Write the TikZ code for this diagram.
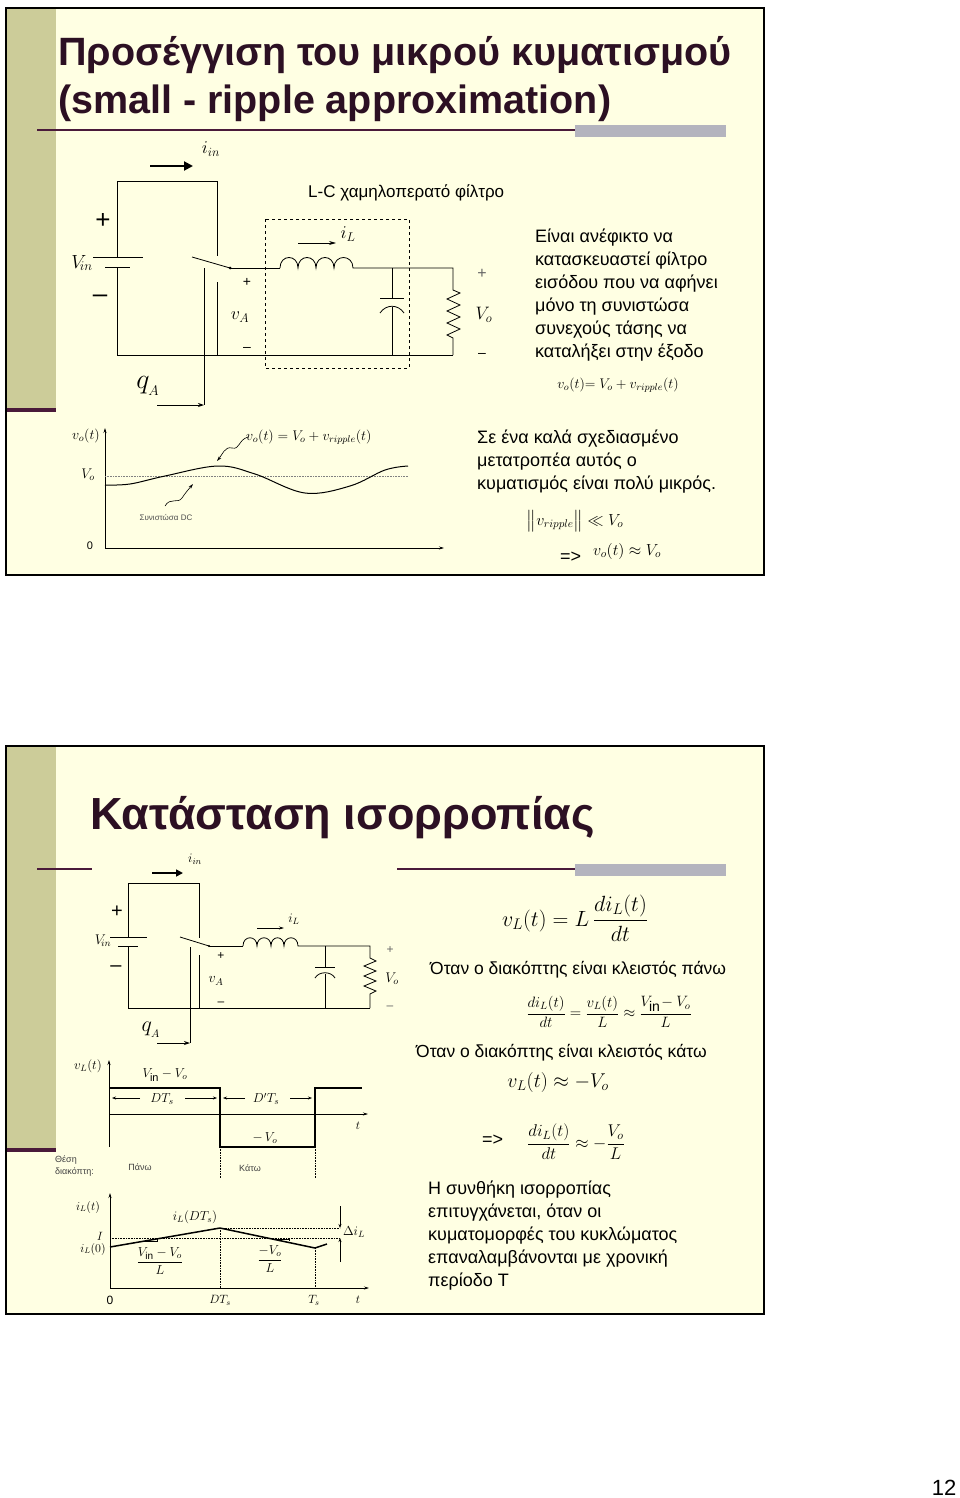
\RequirePackage{fix-cm}
\documentclass[tikz,border=0pt]{standalone}
\usepackage{amsmath}
\usepackage{fontspec}
\setmainfont{Liberation Sans}
\usetikzlibrary{arrows.meta}
\definecolor{slidebg}{HTML}{FFFFE3}
\definecolor{barcol}{HTML}{CCCC99}
\definecolor{darkline}{HTML}{4A1A3A}
\definecolor{graybar}{HTML}{B4B4BE}
\newcommand{\fs}[1]{\fontsize{#1pt}{1.27\dimexpr#1pt\relax}\selectfont}
\begin{document}
\begin{tikzpicture}[x=1pt,y=-1pt,
  wire/.style={line width=0.8pt},
  txt/.style={inner sep=0pt,anchor=west,align=left},
  lbl/.style={inner sep=0pt},
  bodytext/.style={txt,font=\fs{18}},
  arr/.style={-{Stealth[length=6pt,width=4pt]}},
  dotl/.style={densely dotted,line width=0.6pt}]
\useasboundingbox (0,0) rectangle (960,1498);
\fill[white] (0,0) rectangle (960,1498);
%================ SLIDE 1 =================
\fill[slidebg] (6,8) rectangle (764,575);
\fill[barcol] (6,8) rectangle (56,410);
\fill[darkline] (6,408) rectangle (56,412);
\draw[line width=2pt] (6,8) rectangle (764,575);
\node[txt,font=\fs{39.5}\bfseries,text=darkline!60!black] (t1a) at (58,55) {Προσέγγιση του μικρού κυματισμού};
\node[txt,font=\fs{39.5}\bfseries,text=darkline!60!black] (t1b) at (58,103) {(small - ripple approximation)};
\draw[line width=1.2pt,darkline] (37,130) -- (575,130);
\fill[graybar] (575,125) rectangle (726,137);
% circuit 1
\draw[wire] (117,257) -- (117,181) -- (217,181) -- (217,256);
\draw[wire] (117,267) -- (117,355) -- (453,355);
\draw[wire] (217,282) -- (217,355);
\draw[wire] (93,257) -- (143,257);
\draw[wire] (105,267) -- (130,267);
\node[lbl,font=\fs{26}] (p1) at (103,221) {+};
\node[lbl,font=\fs{26}] (m1) at (100,299) {--};
\node[lbl,font=\fs{19}] (vin1) at (82,263) {$V_{\!in}$};
\draw[wire] (192,257) -- (230,268);
\fill (230,268) circle (1.5);
\draw[wire] (230,268) -- (280,268);
\draw[wire] (280,268) .. controls +(0,-14) and +(0,-14) .. ++(18,0)
  .. controls +(0,-14) and +(0,-14) .. ++(18,0)
  .. controls +(0,-14) and +(0,-14) .. ++(18,0)
  .. controls +(0,-14) and +(0,-14) .. ++(19,0) -- (453,268) -- (453,290)
  -- (460,293) -- (447,299) -- (460,305) -- (447,311) -- (460,317) -- (447,323) -- (460,329) -- (447,335) -- (453,338) -- (453,355);
\draw[wire] (392,268) -- (392,298) (380,298) -- (404,298);
\draw[wire] (380,313) .. controls (386,304) and (398,304) .. (404,313);
\draw[wire] (392,307) -- (392,355);
\draw[wire] (204,268) -- (204,405);
\draw[wire,arr] (157,405) -- (204,405);
\node[lbl,font=\fs{28}] (qa1) at (148,386) {$q_{_A}$};
\draw[dashed,line width=0.7pt] (265,219) rectangle (409,368);
\node[lbl,font=\fs{14}] (pa1) at (247,282) {+};
\node[lbl,font=\fs{18}] (va1) at (240,317) {$v_A$};
\node[lbl,font=\fs{14}] (ma1) at (247,349) {--};
\node[lbl,font=\fs{16},text=black!60] (po1) at (482,274) {+};
\node[lbl,font=\fs{18}] (vo1) at (484,315) {$V_o$};
\node[lbl,font=\fs{14}] (mo1) at (482,355) {--};
\draw[line width=2pt,-{Triangle[length=9pt,width=9pt]}] (150,166) -- (193,166);
\node[lbl,font=\fs{18}] (iin1) at (211,149) {$i_{in}$};
\draw[line width=0.8pt,-{Stealth[length=7pt,width=4pt]}] (298,243) -- (336,243);
\node[lbl,font=\fs{18}] (il1) at (348,234) {$i_L$};
\node[txt,font=\fs{17}] (lc) at (308,193) {L-C χαμηλοπερατό φίλτρο};
\node[bodytext,anchor=north west] (para1) at (535,229) {Είναι ανέφικτο να\\κατασκευαστεί φίλτρο\\εισόδου που να αφήνει\\μόνο τη συνιστώσα\\συνεχούς τάσης να\\καταλήξει στην έξοδο};
\node[lbl,font=\fs{14}] (eq1) at (618,385) {$v_o(t){=}\;V_o + v_{ripple}(t)$};
% waveform 1
\draw[line width=0.7pt,-{Stealth[length=5pt,width=3pt]}] (105,548) -- (105,428);
\draw[line width=0.7pt,-{Stealth[length=5pt,width=3pt]}] (105,548) -- (444,548);
\draw[dotl,black!50] (105,476) -- (408,476);
\draw[line width=1pt] plot[smooth,tension=0.6] coordinates {(105,485) (130,484) (165,476) (218,466) (255,474) (305,493) (350,486) (385,470) (408,466)};
\node[lbl,font=\fs{14}] (vot) at (86,436) {$v_o(t)$};
\node[lbl,font=\fs{14}] (Vo1) at (88,475) {$V_o$};
\node[lbl,font=\fs{11}] (z1) at (90,546) {0};
\node[lbl,font=\fs{14},anchor=west] (wl) at (246,437) {$v_o(t) = V_o + v_{ripple}(t)$};
\draw[line width=0.6pt,-{Stealth[length=5pt,width=3pt]}] (248,437) .. controls (238,440) and (240,450) .. (232,448) .. controls (225,446) and (222,455) .. (217,461);
\draw[line width=0.6pt,-{Stealth[length=5pt,width=3pt]}] (165,506) .. controls (170,497) and (178,504) .. (182,498) .. controls (186,492) and (188,490) .. (193,484);
\node[lbl,font=\fs{8},text=black!70] (dc) at (166,518) {Συνιστώσα DC};
\node[bodytext,anchor=north west] (para2) at (477,430) {Σε ένα καλά σχεδιασμένο\\μετατροπέα αυτός ο\\κυματισμός είναι πολύ μικρός.};
\node[lbl,font=\fs{16}] (ineq) at (575,521) {$\big\| v_{ripple}\big\| \ll V_o$};
\node[lbl,font=\fs{18},anchor=west] (impl1) at (560,557) {=>};
\node[lbl,font=\fs{16},anchor=west] (impl1b) at (593,551) {$v_o(t)\approx V_o$};
%================ SLIDE 2 =================
\fill[slidebg] (6,746) rectangle (764,1314);
\fill[barcol] (6,746) rectangle (56,1150);
\fill[darkline] (6,1148) rectangle (56,1152);
\draw[line width=2pt] (6,746) rectangle (764,1314);
\node[txt,font=\fs{45}\bfseries,text=darkline!60!black] (t2) at (90,818) {Κατάσταση ισορροπίας};
\draw[line width=1.2pt,darkline] (37,869) -- (92,869);
\draw[line width=1.2pt,darkline] (397,869) -- (575,869);
\fill[graybar] (575,864) rectangle (726,876);
% circuit 2
\draw[wire] (128,937) -- (128,883) -- (199,883) -- (199,938);
\draw[wire] (128,946) -- (128,1008) -- (370,1008);
\draw[wire] (199,955) -- (199,1008);
\draw[wire] (110,937) -- (147,937);
\draw[wire] (118,946) -- (138,946);
\node[lbl,font=\fs{20}] (p2) at (117,912) {+};
\node[lbl,font=\fs{20}] (m2) at (116,969) {--};
\node[lbl,font=\fs{14}] (vin2) at (103,941) {$V_{\!in}$};
\draw[wire] (180,937) -- (209,946);
\fill (209,946) circle (1.2);
\draw[wire] (209,946) -- (243,946);
\draw[wire] (243,946) .. controls +(0,-11) and +(0,-11) .. ++(14,0)
  .. controls +(0,-11) and +(0,-11) .. ++(14,0)
  .. controls +(0,-11) and +(0,-11) .. ++(13,0)
  .. controls +(0,-11) and +(0,-11) .. ++(14,0) -- (370,946) -- (370,958)
  -- (376,961) -- (364,966) -- (376,971) -- (364,976) -- (376,981) -- (364,986) -- (376,991) -- (370,994) -- (370,1008);
\draw[wire] (325,946) -- (325,967) (315,967) -- (335,967);
\draw[wire] (315,978) .. controls (319,971) and (331,971) .. (335,978);
\draw[wire] (325,974) -- (325,1008);
\draw[wire] (190,947) -- (190,1043);
\draw[wire,arr] (157,1043) -- (190,1043);
\node[lbl,font=\fs{22}] (qa2) at (151,1030) {$q_{_A}$};
\node[lbl,font=\fs{12}] (pa2) at (221,956) {+};
\node[lbl,font=\fs{14}] (va2) at (216,981) {$v_A$};
\node[lbl,font=\fs{12}] (ma2) at (221,1004) {--};
\node[lbl,font=\fs{12},text=black!60] (po2) at (390,950) {+};
\node[lbl,font=\fs{14}] (vo2) at (392,979) {$V_o$};
\node[lbl,font=\fs{12},text=black!60] (mo2) at (390,1008) {--};
\draw[line width=1.6pt,-{Triangle[length=7pt,width=7pt]}] (152,873) -- (183,873);
\node[lbl,font=\fs{13}] (iin2) at (195,859) {$i_{in}$};
\draw[line width=0.7pt,-{Stealth[length=5pt,width=3pt]}] (257,928) -- (284,928);
\node[lbl,font=\fs{13}] (il2) at (294,919) {$i_L$};
% vL waveform
\draw[line width=0.7pt,-{Stealth[length=5pt,width=3pt]}] (109,1147) -- (109,1060);
\draw[line width=0.7pt,-{Stealth[length=5pt,width=3pt]}] (109,1114) -- (368,1114);
\draw[line width=2pt] (109,1088) -- (220,1088) -- (220,1147) -- (315,1147) -- (315,1088) -- (362,1088);
\draw[dotl] (220,1147) -- (220,1178) (315,1147) -- (315,1178);
\draw[line width=0.6pt,-{Stealth[length=4pt,width=3pt]}] (140,1098) -- (112,1098);
\draw[line width=0.6pt,-{Stealth[length=4pt,width=3pt]}] (185,1098) -- (217,1098);
\draw[line width=0.6pt,-{Stealth[length=4pt,width=3pt]}] (245,1098) -- (223,1098);
\draw[line width=0.6pt,-{Stealth[length=4pt,width=3pt]}] (290,1098) -- (312,1098);
\node[lbl,font=\fs{13}] (vlt) at (88,1066) {$v_L(t)$};
\node[lbl,font=\fs{13}] (vinvo) at (165,1075) {$V_{\mbox{\fs{11}in}} - V_o$};
\node[lbl,font=\fs{13}] (dts1) at (162,1099) {$DT_s$};
\node[lbl,font=\fs{13}] (dts2) at (266,1099) {$D'T_s$};
\node[lbl,font=\fs{13}] (mvo) at (265,1138) {$-\,V_o$};
\node[lbl,font=\fs{12}] (tt1) at (358,1126) {$t$};
\node[txt,font=\fs{9},text=black!75] (thesi) at (55,1166) {Θέση\\διακόπτη:};
\node[lbl,font=\fs{9},text=black!75] (pano) at (140,1167) {Πάνω};
\node[lbl,font=\fs{9},text=black!75] (kato) at (250,1168) {Κάτω};
% iL waveform
\draw[line width=0.7pt,-{Stealth[length=5pt,width=3pt]}] (110,1288) -- (110,1193);
\draw[line width=0.7pt,-{Stealth[length=5pt,width=3pt]}] (110,1288) -- (369,1288);
\draw[dotl] (110,1238) -- (340,1238) (220,1228) -- (340,1228);
\draw[dotl] (220,1228) -- (220,1288) (315,1248) -- (315,1288);
\draw[line width=1.5pt] (110,1247) -- (220,1228) -- (315,1248) -- (327,1244);
\draw[line width=0.5pt] (145,1241) -- (157,1241) -- (157,1239);
\draw[line width=0.5pt] (277,1239) -- (289,1239) -- (289,1241);
\draw[line width=0.6pt,-{Stealth[length=4pt,width=3pt]}] (340,1206) -- (340,1228);
\draw[line width=0.6pt,-{Stealth[length=4pt,width=3pt]}] (340,1262) -- (340,1238);
\node[lbl,font=\fs{12}] (ilt) at (88,1207) {$i_L(t)$};
\node[lbl,font=\fs{13}] (ildts) at (195,1217) {$i_L(DT_s)$};
\node[lbl,font=\fs{12}] (ibig) at (100,1236) {$I$};
\node[lbl,font=\fs{12}] (il0) at (93,1249) {$i_L(0)$};
\node[lbl,font=\fs{13}] (sl1) at (160,1261) {$\dfrac{V_{\mbox{\fs{10}in}}-V_o}{L}$};
\node[lbl,font=\fs{13}] (sl2) at (270,1259) {$\dfrac{-V_o}{L}$};
\node[lbl,font=\fs{13}] (dil) at (354,1232) {$\Delta i_L$};
\node[lbl,font=\fs{12}] (z2) at (110,1300) {0};
\node[lbl,font=\fs{12}] (dts3) at (220,1300) {$DT_s$};
\node[lbl,font=\fs{12}] (ts) at (314,1300) {$T_s$};
\node[lbl,font=\fs{12}] (tt2) at (358,1300) {$t$};
% right side
\node[lbl,font=\fs{22}] (eqA) at (575,918) {$v_L(t) = L\,\dfrac{di_L(t)}{dt}$};
\node[txt,font=\fs{17.5}] (pano2) at (430,970) {Όταν ο διακόπτης είναι κλειστός πάνω};
\node[lbl,font=\fs{15}] (eqB) at (609,1012) {$\dfrac{di_L(t)}{dt} = \dfrac{v_L(t)}{L} \approx \dfrac{V_{\mbox{\fs{14}in}}\!-V_o}{L}$};
\node[txt,font=\fs{17.5}] (kato2) at (416,1053) {Όταν ο διακόπτης είναι κλειστός κάτω};
\node[lbl,font=\fs{20}] (eqC) at (558,1082) {$v_L(t) \approx -V_o$};
\node[lbl,font=\fs{18},anchor=west] (impl2) at (482,1140) {=>};
\node[lbl,font=\fs{17}] (eqD) at (576,1142) {$\dfrac{di_L(t)}{dt} \approx -\dfrac{V_o}{L}$};
\node[bodytext,anchor=north west] (para3) at (428,1181) {Η συνθήκη ισορροπίας\\επιτυγχάνεται, όταν οι\\κυματομορφές του κυκλώματος\\επαναλαμβάνονται με χρονική\\περίοδο T};
\node[lbl,font=\fs{22}] (pg) at (944,1488) {12};
\end{tikzpicture}
\end{document}
